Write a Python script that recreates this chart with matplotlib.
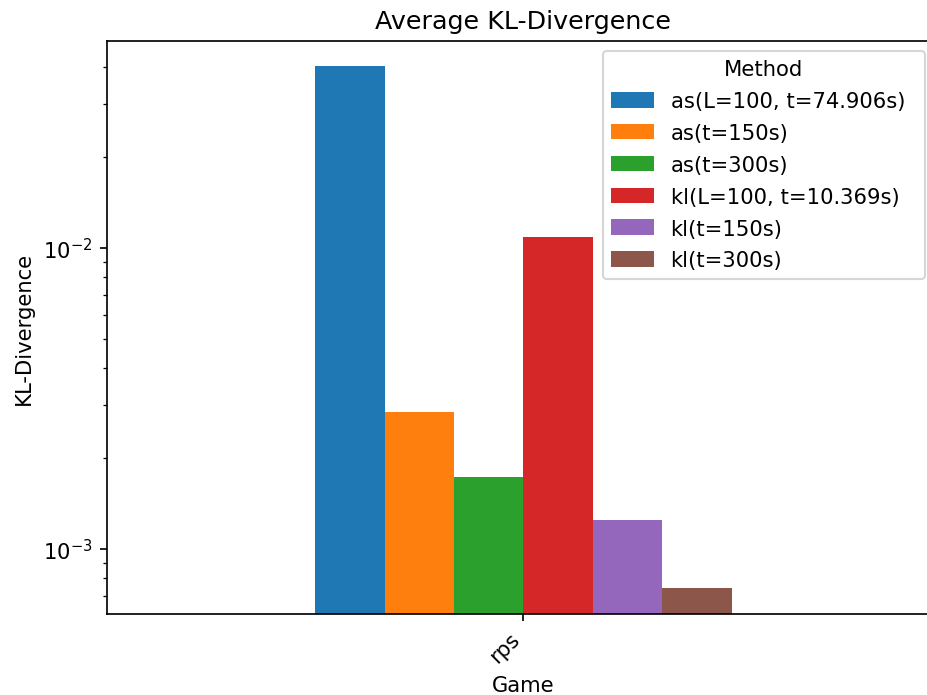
import numpy as np
import pandas as pd
import matplotlib
matplotlib.use('Agg')
import matplotlib.pyplot as plt

games = ['rps']
methods = ['as(L=100, t=74.906s)', 'as(t=150s)', 'as(t=300s)',
           'kl(L=100, t=10.369s)', 'kl(t=150s)', 'kl(t=300s)']
kl_values = [0.0402, 0.002847, 0.001738, 0.01086, 0.001246, 0.000743]

df = pd.DataFrame([kl_values], index=games, columns=methods)

dpi = 152
fig = plt.figure(figsize=(927 / dpi, 696 / dpi), dpi=dpi)
ax = fig.add_axes([0.1154, 0.1164, 0.8986, 0.8233])
df.plot(kind='bar', ax=ax, logy=True, width=0.5)

ax.set_xlim(-0.5, 0.5)
ax.set_ylim(6.08e-4, 0.0487)
ax.set_title('Average KL-Divergence')
ax.set_xlabel('Game')
ax.set_ylabel('KL-Divergence')
plt.setp(ax.get_xticklabels(), rotation=45, ha='right')

# legend box sits a bit wider than default in the original
ax.legend(title='Method', loc='upper left', mode='expand',
          bbox_to_anchor=(0.5954, 0.0, 0.3866, 0.9825),
          borderaxespad=0, labelspacing=0.56, handleheight=0.75)

fig.savefig('out.png', dpi=dpi)
